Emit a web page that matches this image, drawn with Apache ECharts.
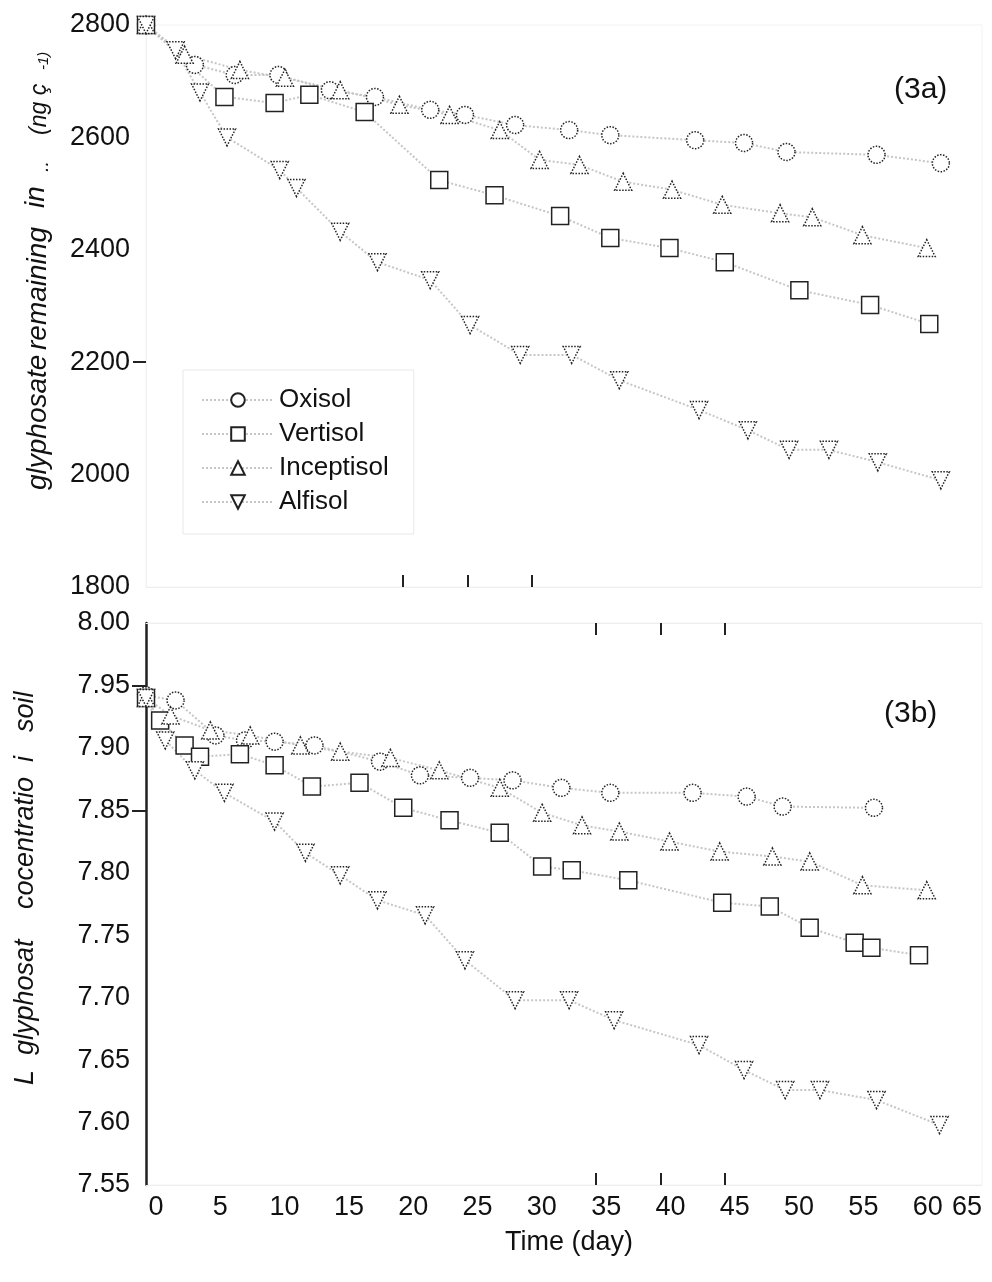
<!DOCTYPE html>
<html>
<head>
<meta charset="utf-8">
<script src="https://cdn.jsdelivr.net/npm/echarts@6.0.0/dist/echarts.min.js"></script>
<style>
html,body{margin:0;padding:0;background:#fff;}
#main{width:992px;height:1282px;}
</style>
</head>
<body>
<div id="main"></div>
<script>
// (3a) glyphosate remaining, ng g-1
var topOxisolDay = [0, 3.8, 6.9, 10.3, 14.3, 17.8, 22.1, 24.8, 28.7, 32.9, 36.1, 42.7, 46.5, 49.8, 56.8, 61.8];
var topOxisolVal = [2800, 2729, 2711, 2711, 2684, 2672, 2649, 2640, 2622, 2613, 2604, 2595, 2590, 2574, 2569, 2554];
var topVertisolDay = [0, 6.1, 10.0, 12.7, 17.0, 22.8, 27.1, 32.2, 36.1, 40.7, 45.0, 50.8, 56.3, 60.9];
var topVertisolVal = [2800, 2672, 2661, 2676, 2645, 2524, 2497, 2460, 2421, 2403, 2378, 2328, 2302, 2268];
var topInceptisolDay = [0, 3.0, 7.3, 10.8, 15.1, 19.7, 23.6, 27.5, 30.6, 33.7, 37.1, 40.9, 44.8, 49.3, 51.8, 55.7, 60.7];
var topInceptisolVal = [2800, 2747, 2720, 2706, 2684, 2658, 2640, 2613, 2560, 2551, 2521, 2507, 2480, 2465, 2458, 2426, 2403];
var topAlfisolDay = [0, 2.3, 4.2, 6.3, 10.4, 11.7, 15.1, 18.0, 22.1, 25.2, 29.1, 33.1, 36.8, 43.0, 46.8, 50.0, 53.1, 56.9, 61.8];
var topAlfisolVal = [2800, 2755, 2680, 2600, 2542, 2510, 2432, 2378, 2346, 2266, 2213, 2213, 2168, 2115, 2079, 2044, 2044, 2022, 1990];

// (3b) log glyphosate concentration in soil
var botOxisolDay = [0, 2.3, 5.4, 7.7, 10.0, 13.1, 18.2, 21.3, 25.2, 28.5, 32.3, 36.1, 42.5, 46.7, 49.5, 56.6];
var botOxisolVal = [7.942, 7.938, 7.910, 7.906, 7.905, 7.902, 7.889, 7.878, 7.876, 7.874, 7.868, 7.864, 7.864, 7.861, 7.853, 7.852];
var botVertisolDay = [0, 1.1, 3.0, 4.2, 7.3, 10.0, 12.9, 16.6, 20.0, 23.6, 27.5, 30.8, 33.1, 37.5, 44.8, 48.5, 51.6, 55.1, 56.4, 60.1];
var botVertisolVal = [7.940, 7.922, 7.902, 7.893, 7.895, 7.886, 7.869, 7.872, 7.852, 7.842, 7.832, 7.805, 7.802, 7.794, 7.776, 7.773, 7.756, 7.744, 7.740, 7.734];
var botInceptisolDay = [0, 1.9, 5.0, 8.1, 12.0, 15.1, 19.0, 22.8, 27.5, 30.8, 33.9, 36.8, 40.7, 44.6, 48.7, 51.6, 55.7, 60.7];
var botInceptisolVal = [7.940, 7.926, 7.914, 7.910, 7.902, 7.897, 7.892, 7.882, 7.868, 7.848, 7.838, 7.833, 7.825, 7.817, 7.813, 7.809, 7.790, 7.786];
var botAlfisolDay = [0, 1.5, 3.8, 6.1, 10.0, 12.4, 15.1, 18.0, 21.7, 24.8, 28.7, 32.9, 36.4, 43.0, 46.5, 49.7, 52.4, 56.8, 61.7];
var botAlfisolVal = [7.940, 7.906, 7.882, 7.864, 7.841, 7.816, 7.798, 7.778, 7.766, 7.730, 7.698, 7.698, 7.682, 7.662, 7.642, 7.626, 7.626, 7.618, 7.598];

var soilNames = ['Oxisol', 'Vertisol', 'Inceptisol', 'Alfisol'];
var xTickLabels = [0, 5, 10, 15, 20, 25, 30, 35, 40, 45, 50, 55, 60, 65];

var myChart = echarts.init(document.getElementById('main'));
var FONT = 'Liberation Sans, Arial, sans-serif';

function pairs(day, val){
	var out = [];
	for (var i = 0; i < day.length; i++) {
		out.push([day[i], val[i]]);
	}
	return out;
}

function soilSeries(name, panel, day, val, symbol, rotate, border){
	return {
		name: name,
		type: 'line',
		xAxisIndex: panel == 0 ? 0 : 1,
		yAxisIndex: panel,
		data: pairs(day, val),
		symbol: symbol,
		symbolRotate: rotate,
		symbolSize: 17,
		showAllSymbol: true,
		itemStyle: {color: '#fff', borderColor: '#222', borderWidth: 1.5, borderType: border},
		lineStyle: {color: '#c6c6c6', width: 2, type: 'dotted'},
		emphasis: {disabled: true}
	};
}

// rotated word of an axis title, x = left edge, y = where the word starts (bottom)
function vword(text, x, y, size){
	return {type: 'text', x: x, y: y, rotation: Math.PI / 2,
		style: {text: text, font: 'italic ' + size + 'px ' + FONT, fill: '#111'}};
}

var option = {
	animation: false,
	backgroundColor: '#fff',
	textStyle: {fontFamily: FONT},
	grid: [
		{left: 146, right: 10, top: 25, height: 562, show: true, borderColor: '#f3f3f3', borderWidth: 1},
		{left: 146, right: 10, top: 623, height: 562, show: true, borderColor: '#f3f3f3', borderWidth: 1}
	],
	legend: {
		orient: 'vertical',
		left: 183,
		top: 370,
		padding: [17, 25, 19, 18],
		itemGap: 8,
		itemWidth: 72,
		itemHeight: 17,
		borderColor: '#e8e8e8',
		borderWidth: 1,
		data: soilNames,
		textStyle: {fontSize: 26, color: '#111', fontFamily: FONT}
	},
	xAxis: [
		{
			gridIndex: 0, type: 'value', min: 0, max: 65, interval: 5,
			axisLine: {lineStyle: {color: '#eee'}},
			axisTick: {inside: true, length: 12, customValues: [20, 25, 30], lineStyle: {color: '#222', width: 2}},
			axisLabel: {show: false},
			splitLine: {show: false}
		},
		{
			gridIndex: 1, type: 'value', min: 0, max: 65, interval: 5,
			axisLine: {lineStyle: {color: '#eee'}},
			axisTick: {inside: true, length: 12, customValues: [35, 40, 45], lineStyle: {color: '#222', width: 2}},
			axisLabel: {fontSize: 27, color: '#111', margin: 9, padding: [0, 0, 0, 20], alignMaxLabel: 'right', customValues: xTickLabels},
			splitLine: {show: false}
		},
		{
			gridIndex: 1, type: 'value', min: 0, max: 65, interval: 5, position: 'top',
			axisLine: {lineStyle: {color: '#eee'}},
			axisTick: {inside: true, length: 12, customValues: [35, 40, 45], lineStyle: {color: '#222', width: 2}},
			axisLabel: {show: false},
			splitLine: {show: false}
		}
	],
	yAxis: [
		{
			gridIndex: 0, type: 'value', min: 1800, max: 2800, interval: 200,
			axisLine: {show: true, lineStyle: {color: '#f3f3f3'}},
			axisTick: {show: true, length: 13, customValues: [2200], lineStyle: {color: '#222', width: 2}},
			axisLabel: {fontSize: 27, color: '#111', margin: 16, formatter: function(v){ return String(v); }},
			splitLine: {show: false}
		},
		{
			gridIndex: 1, type: 'value', min: 7.55, max: 8.0, interval: 0.05,
			axisLine: {show: true, lineStyle: {color: '#222', width: 2.5}},
			axisTick: {show: true, length: 14, customValues: [7.95, 7.85], lineStyle: {color: '#222', width: 2}},
			axisLabel: {fontSize: 27, color: '#111', margin: 16, formatter: function(v){ return v.toFixed(2); }},
			splitLine: {show: false}
		}
	],
	graphic: [
		{type: 'text', left: 894, top: 75, style: {text: '(3a)', font: '30px ' + FONT, fill: '#111'}},
		{type: 'text', left: 884, top: 699, style: {text: '(3b)', font: '30px ' + FONT, fill: '#111'}},
		{type: 'text', left: 505, top: 1229, style: {text: 'Time (day)', font: '27px ' + FONT, fill: '#111'}},
		vword('glyphosate', 24, 490, 28),
		vword('remaining', 24, 350, 28),
		vword('in', 22, 208, 28),
		vword('..', 32, 172, 20),
		vword('(ng ç', 28, 135, 23),
		vword('-1)', 36, 70, 15),
		vword('L', 12, 1085, 27),
		vword('glyphosat', 12, 1055, 27),
		vword('cocentratio', 12, 909, 27),
		vword('i', 12, 762, 27),
		vword('soil', 12, 732, 27)
	],
	series: [
		soilSeries('Oxisol', 0, topOxisolDay, topOxisolVal, 'circle', 0, 'dotted'),
		soilSeries('Vertisol', 0, topVertisolDay, topVertisolVal, 'rect', 0, 'solid'),
		soilSeries('Inceptisol', 0, topInceptisolDay, topInceptisolVal, 'triangle', 0, 'dotted'),
		soilSeries('Alfisol', 0, topAlfisolDay, topAlfisolVal, 'triangle', 180, 'dotted'),
		soilSeries('Oxisol', 1, botOxisolDay, botOxisolVal, 'circle', 0, 'dotted'),
		soilSeries('Vertisol', 1, botVertisolDay, botVertisolVal, 'rect', 0, 'solid'),
		soilSeries('Inceptisol', 1, botInceptisolDay, botInceptisolVal, 'triangle', 0, 'dotted'),
		soilSeries('Alfisol', 1, botAlfisolDay, botAlfisolVal, 'triangle', 180, 'dotted')
	]
};

myChart.setOption(option);
</script>
</body>
</html>
